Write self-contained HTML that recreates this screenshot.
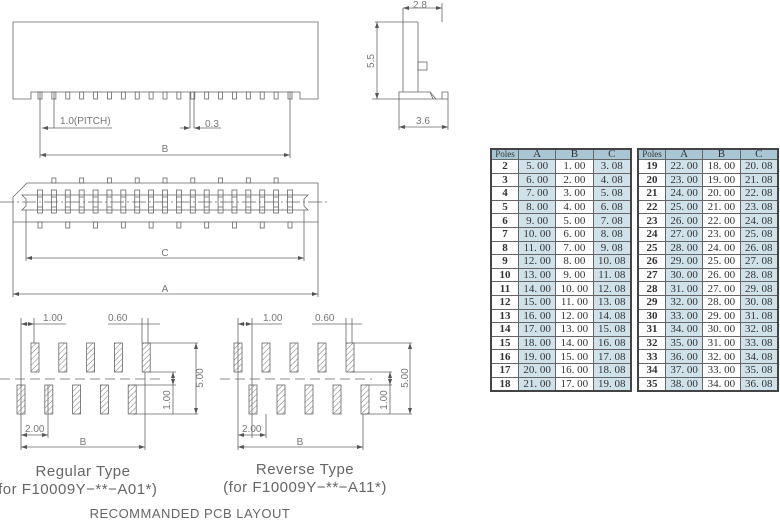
<!DOCTYPE html>
<html><head><meta charset="utf-8">
<style>
html,body{margin:0;padding:0;background:#fff;}
body{width:780px;height:522px;position:relative;overflow:hidden;}
svg{position:absolute;left:0;top:0;}
svg text{font-family:"Liberation Sans",sans-serif;fill:#777;}
table{position:absolute;border-collapse:collapse;font-family:"Liberation Serif",serif;font-size:11px;color:#333;border:2px solid #444;}
td{border:1px solid #666;text-align:center;padding:0;height:12.6px;line-height:12px;}
tr.h td{background:#a9c6d4;height:9px;line-height:9px;}
tr.h td:first-child{font-size:9px;}
td.b{background:#cfe2ea;}
td.p{font-weight:bold;}
</style></head><body>
<svg width="780" height="522" viewBox="0 0 780 522" id="s">
<defs>
<pattern id="hatch" width="4" height="4" patternUnits="userSpaceOnUse" patternTransform="rotate(45)">
<line x1="0" y1="0" x2="0" y2="4" stroke="#777" stroke-width="1"/>
</pattern>
<marker id="ar" markerWidth="6" markerHeight="4" refX="6" refY="2" orient="auto-start-reverse" markerUnits="userSpaceOnUse"><path d="M0,0 L6,2 L0,4 z" fill="#555"/></marker>
</defs>
<g stroke="#666" stroke-width="0.8" fill="none" id="g">
<path d="M13,22 H318 V99 H300 V92 H31 V99 H13 Z"/>
<line x1="40" y1="92" x2="40" y2="158"/>
<line x1="54" y1="92" x2="54" y2="128"/>
<line x1="42" y1="128" x2="54" y2="128" marker-start="url(#ar)"/>
<line x1="54" y1="128" x2="112" y2="128"/>
<line x1="190" y1="92" x2="190" y2="128"/>
<line x1="194" y1="92" x2="194" y2="128"/>
<line x1="180" y1="128" x2="190" y2="128" marker-end="url(#ar)"/>
<line x1="204" y1="128" x2="194" y2="128" marker-end="url(#ar)"/>
<line x1="204" y1="128" x2="221" y2="128"/>
<line x1="290" y1="92" x2="290" y2="158"/>
<line x1="40" y1="155" x2="290" y2="155" marker-start="url(#ar)" marker-end="url(#ar)"/>
<line x1="403" y1="8" x2="403" y2="92"/>
<line x1="442" y1="3" x2="442" y2="22"/>
<line x1="403" y1="8" x2="442" y2="8" marker-start="url(#ar)" marker-end="url(#ar)"/>
<line x1="418" y1="22" x2="418" y2="92"/>
<line x1="375" y1="22" x2="418" y2="22"/>
<rect x="418" y="62" width="9" height="8"/>
<path d="M399,99 V92 H403 V92 H418 L418,92 H430 L433,99 H442 V92 H448 V99 Z"/>
<path d="M430,92 L436,99"/>
<line x1="377" y1="22" x2="377" y2="99" marker-start="url(#ar)" marker-end="url(#ar)"/>
<line x1="372" y1="99" x2="399" y2="99"/>
<line x1="399" y1="99" x2="399" y2="130"/>
<line x1="448" y1="99" x2="448" y2="130"/>
<line x1="399" y1="127" x2="448" y2="127" marker-start="url(#ar)" marker-end="url(#ar)"/>
<path d="M27,183 H318 V222 H13 V197 Z"/>
<path d="M22,195 H308 L304,199 V206 L308,210 H22 L26,206 V199 Z"/>
<line x1="0" y1="202" x2="330" y2="202" stroke-dasharray="14,3,2,3"/>
<line x1="13" y1="222" x2="13" y2="297"/>
<line x1="318" y1="222" x2="318" y2="297"/>
<line x1="26" y1="210" x2="26" y2="261"/>
<line x1="304" y1="210" x2="304" y2="261"/>
<line x1="26" y1="258" x2="304" y2="258" marker-start="url(#ar)" marker-end="url(#ar)"/>
<line x1="13" y1="294" x2="318" y2="294" marker-start="url(#ar)" marker-end="url(#ar)"/>
<line x1="0" y1="379" x2="160" y2="379" stroke-dasharray="10,5"/>
<line x1="21" y1="318" x2="21" y2="450"/>
<line x1="34" y1="318" x2="34" y2="343"/>
<line x1="21" y1="324" x2="34" y2="324" marker-start="url(#ar)" marker-end="url(#ar)"/>
<line x1="34" y1="324" x2="66" y2="324"/>
<line x1="142" y1="318" x2="142" y2="343"/>
<line x1="148" y1="318" x2="148" y2="343"/>
<line x1="108" y1="324" x2="160" y2="324"/>
<line x1="145" y1="343" x2="198" y2="343"/>
<line x1="132" y1="414" x2="198" y2="414"/>
<line x1="196" y1="343" x2="196" y2="414" marker-start="url(#ar)" marker-end="url(#ar)"/>
<line x1="150" y1="372" x2="176" y2="372"/>
<line x1="132" y1="385" x2="176" y2="385"/>
<line x1="173" y1="372" x2="173" y2="385" marker-start="url(#ar)" marker-end="url(#ar)"/>
<line x1="173" y1="385" x2="173" y2="414"/>
<line x1="48" y1="385" x2="48" y2="438"/>
<line x1="21" y1="435" x2="48" y2="435" marker-start="url(#ar)" marker-end="url(#ar)"/>
<line x1="145" y1="372" x2="145" y2="450"/>
<line x1="21" y1="447" x2="145" y2="447" marker-start="url(#ar)" marker-end="url(#ar)"/>
<line x1="220" y1="379" x2="372" y2="379" stroke-dasharray="10,5"/>
<line x1="238" y1="318" x2="238" y2="450"/>
<line x1="252" y1="318" x2="252" y2="438"/>
<line x1="238" y1="324" x2="252" y2="324" marker-start="url(#ar)" marker-end="url(#ar)"/>
<line x1="252" y1="324" x2="282" y2="324"/>
<line x1="346" y1="318" x2="346" y2="343"/>
<line x1="352" y1="318" x2="352" y2="343"/>
<line x1="312" y1="324" x2="362" y2="324"/>
<line x1="352" y1="343" x2="412" y2="343"/>
<line x1="365" y1="414" x2="412" y2="414"/>
<line x1="410" y1="343" x2="410" y2="414" marker-start="url(#ar)" marker-end="url(#ar)"/>
<line x1="352" y1="372" x2="392" y2="372"/>
<line x1="365" y1="385" x2="392" y2="385"/>
<line x1="390" y1="372" x2="390" y2="385" marker-start="url(#ar)" marker-end="url(#ar)"/>
<line x1="390" y1="385" x2="390" y2="414"/>
<line x1="238" y1="435" x2="266" y2="435" marker-start="url(#ar)" marker-end="url(#ar)"/>
<line x1="266" y1="414" x2="266" y2="438"/>
<line x1="363" y1="414" x2="363" y2="450"/>
<line x1="238" y1="447" x2="363" y2="447" marker-start="url(#ar)" marker-end="url(#ar)"/>
</g>
<g font-size="10">
<text x="60" y="124">1.0(PITCH)</text>
<text x="205" y="127">0.3</text>
<text x="165" y="152" text-anchor="middle">B</text>
<text x="420" y="8" text-anchor="middle">2.8</text>
<text x="423" y="124" text-anchor="middle">3.6</text>
<text transform="translate(374,61) rotate(-90)" text-anchor="middle">5.5</text>
<text x="165" y="256" text-anchor="middle">C</text>
<text x="165" y="292" text-anchor="middle">A</text>
<text x="43" y="321">1.00</text>
<text x="108" y="321">0.60</text>
<text x="25" y="432">2.00</text>
<text x="83" y="445" text-anchor="middle">B</text>
<text transform="translate(203,378) rotate(-90)" text-anchor="middle">5.00</text>
<text transform="translate(170,400) rotate(-90)" text-anchor="middle">1.00</text>
<text x="263" y="321">1.00</text>
<text x="315" y="321">0.60</text>
<text x="242" y="432">2.00</text>
<text x="300" y="445" text-anchor="middle">B</text>
<text transform="translate(408,378) rotate(-90)" text-anchor="middle">5.00</text>
<text transform="translate(387,400) rotate(-90)" text-anchor="middle">1.00</text>
</g>
<g font-size="15" text-anchor="middle" letter-spacing="0.5" style="fill:#666">
<text x="83" y="476" style="fill:#666">Regular Type</text>
<text x="75" y="494" style="fill:#666">(for F10009Y−**−A01*)</text>
<text x="305" y="474" style="fill:#666">Reverse Type</text>
<text x="305" y="492" style="fill:#666">(for F10009Y−**−A11*)</text>
<text x="190" y="518" font-size="13" style="fill:#666">RECOMMANDED PCB LAYOUT</text>
</g>
</svg>
<script>
var g=document.getElementById('g'),ns='http://www.w3.org/2000/svg';
function r(x,y,w,h,f){var e=document.createElementNS(ns,'rect');e.setAttribute('x',x);e.setAttribute('y',y);e.setAttribute('width',w);e.setAttribute('height',h);if(f)e.setAttribute('fill',f);g.appendChild(e);}
var p=(290-40)/18;
for(var i=0;i<19;i++){var cx=40+i*p;
 r(cx-2,92,4,7);
 r(cx-2.5,190,5,23);
 var l=document.createElementNS(ns,'path');l.setAttribute('d','M'+(cx-2.5)+',197 h5 M'+(cx-2.5)+',207 h5');g.appendChild(l);
 if(i%2==1)r(cx-2,178,4,5); else r(cx-2,222,4,6);
}
for(var i=0;i<5;i++){
 r(31+i*27.8,343,8,29,'url(#hatch)');
 r(17+i*27.8,385,8,29,'url(#hatch)');
 r(234+i*28,343,8,29,'url(#hatch)');
 r(249+i*28,385,8,29,'url(#hatch)');
}
</script>
<table style="left:490px;top:148px;width:142px;">
<tr class="h"><td style="width:26px">Poles</td><td>A</td><td>B</td><td>C</td></tr>
<tr><td class="p">2</td><td class="b">5. 00</td><td>1. 00</td><td class="b">3. 08</td></tr>
<tr><td class="p">3</td><td class="b">6. 00</td><td>2. 00</td><td class="b">4. 08</td></tr>
<tr><td class="p">4</td><td class="b">7. 00</td><td>3. 00</td><td class="b">5. 08</td></tr>
<tr><td class="p">5</td><td class="b">8. 00</td><td>4. 00</td><td class="b">6. 08</td></tr>
<tr><td class="p">6</td><td class="b">9. 00</td><td>5. 00</td><td class="b">7. 08</td></tr>
<tr><td class="p">7</td><td class="b">10. 00</td><td>6. 00</td><td class="b">8. 08</td></tr>
<tr><td class="p">8</td><td class="b">11. 00</td><td>7. 00</td><td class="b">9. 08</td></tr>
<tr><td class="p">9</td><td class="b">12. 00</td><td>8. 00</td><td class="b">10. 08</td></tr>
<tr><td class="p">10</td><td class="b">13. 00</td><td>9. 00</td><td class="b">11. 08</td></tr>
<tr><td class="p">11</td><td class="b">14. 00</td><td>10. 00</td><td class="b">12. 08</td></tr>
<tr><td class="p">12</td><td class="b">15. 00</td><td>11. 00</td><td class="b">13. 08</td></tr>
<tr><td class="p">13</td><td class="b">16. 00</td><td>12. 00</td><td class="b">14. 08</td></tr>
<tr><td class="p">14</td><td class="b">17. 00</td><td>13. 00</td><td class="b">15. 08</td></tr>
<tr><td class="p">15</td><td class="b">18. 00</td><td>14. 00</td><td class="b">16. 08</td></tr>
<tr><td class="p">16</td><td class="b">19. 00</td><td>15. 00</td><td class="b">17. 08</td></tr>
<tr><td class="p">17</td><td class="b">20. 00</td><td>16. 00</td><td class="b">18. 08</td></tr>
<tr><td class="p">18</td><td class="b">21. 00</td><td>17. 00</td><td class="b">19. 08</td></tr>
</table>
<table style="left:637px;top:148px;width:142px;">
<tr class="h"><td style="width:26px">Poles</td><td>A</td><td>B</td><td>C</td></tr>
<tr><td class="p">19</td><td class="b">22. 00</td><td>18. 00</td><td class="b">20. 08</td></tr>
<tr><td class="p">20</td><td class="b">23. 00</td><td>19. 00</td><td class="b">21. 08</td></tr>
<tr><td class="p">21</td><td class="b">24. 00</td><td>20. 00</td><td class="b">22. 08</td></tr>
<tr><td class="p">22</td><td class="b">25. 00</td><td>21. 00</td><td class="b">23. 08</td></tr>
<tr><td class="p">23</td><td class="b">26. 00</td><td>22. 00</td><td class="b">24. 08</td></tr>
<tr><td class="p">24</td><td class="b">27. 00</td><td>23. 00</td><td class="b">25. 08</td></tr>
<tr><td class="p">25</td><td class="b">28. 00</td><td>24. 00</td><td class="b">26. 08</td></tr>
<tr><td class="p">26</td><td class="b">29. 00</td><td>25. 00</td><td class="b">27. 08</td></tr>
<tr><td class="p">27</td><td class="b">30. 00</td><td>26. 00</td><td class="b">28. 08</td></tr>
<tr><td class="p">28</td><td class="b">31. 00</td><td>27. 00</td><td class="b">29. 08</td></tr>
<tr><td class="p">29</td><td class="b">32. 00</td><td>28. 00</td><td class="b">30. 08</td></tr>
<tr><td class="p">30</td><td class="b">33. 00</td><td>29. 00</td><td class="b">31. 08</td></tr>
<tr><td class="p">31</td><td class="b">34. 00</td><td>30. 00</td><td class="b">32. 08</td></tr>
<tr><td class="p">32</td><td class="b">35. 00</td><td>31. 00</td><td class="b">33. 08</td></tr>
<tr><td class="p">33</td><td class="b">36. 00</td><td>32. 00</td><td class="b">34. 08</td></tr>
<tr><td class="p">34</td><td class="b">37. 00</td><td>33. 00</td><td class="b">35. 08</td></tr>
<tr><td class="p">35</td><td class="b">38. 00</td><td>34. 00</td><td class="b">36. 08</td></tr>
</table>
</body></html>
